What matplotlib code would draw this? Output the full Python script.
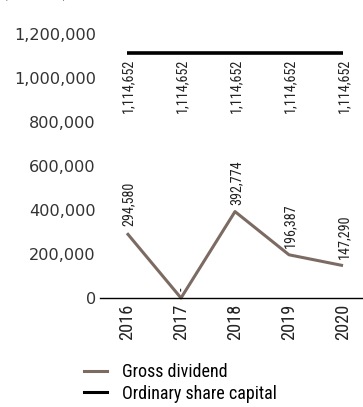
import matplotlib
matplotlib.use("Agg")
import matplotlib.pyplot as plt
from matplotlib.lines import Line2D

years = ["2016", "2017", "2018", "2019", "2020"]
gross_dividend = [294580, 0, 392774, 196387, 147290]
dividend_labels = ["294,580", "-", "392,774", "196,387", "147,290"]
share_capital = [1114652, 1114652, 1114652, 1114652, 1114652]
share_labels = ["1,114,652"] * 5
y_ticks = [0, 200000, 400000, 600000, 800000, 1000000, 1200000]
series_names = ["Gross dividend", "Ordinary share capital"]

narrow = ["Roboto Condensed", "Liberation Sans Narrow", "Roboto"]

W, H = 363, 407
fig = plt.figure(figsize=(W / 100, H / 100), dpi=100)
ax = fig.add_axes([100 / W, 1 - 298 / H, 263 / W, 264 / H])

brown = "#7b6b63"
x = list(range(len(years)))
ax.plot(x, gross_dividend, color=brown, lw=2.2, solid_capstyle="butt", clip_on=False)
ax.plot(x, share_capital, color="black", lw=2.6, solid_capstyle="butt", clip_on=False)

ax.set_xlim(-0.5, 4.37)
ax.set_ylim(0, 1200000)

for xi, v, lab in zip(x, gross_dividend, dividend_labels):
    ax.annotate(lab, (xi, v), xytext=(1, 5), textcoords="offset points",
                rotation=90, ha="center", va="bottom", fontsize=10.2,
                family=narrow, color="#222222")
for xi, v, lab in zip(x, share_capital, share_labels):
    ax.annotate(lab, (xi, v), xytext=(1, -4), textcoords="offset points",
                rotation=90, ha="center", va="top", fontsize=10.2,
                family=narrow, color="#222222")

ax.set_yticks(y_ticks)
ax.set_yticklabels([f"{t:,}" for t in y_ticks], fontsize=11.6, family="DejaVu Sans",
                   color="#333333")
ax.set_xticks(x)
ax.set_xticklabels(years, rotation=90, fontsize=13.2, family=narrow, color="#222222")
ax.tick_params(axis="both", length=0)
ax.tick_params(axis="y", pad=3)
ax.tick_params(axis="x", pad=4)

for s in ["top", "right", "left"]:
    ax.spines[s].set_visible(False)
ax.spines["bottom"].set_linewidth(1.0)
ax.spines["bottom"].set_color("black")

# legend entries
handles = [Line2D([], [], color=brown, lw=2.2), Line2D([], [], color="black", lw=2.2)]
fig.legend(handles, series_names, loc="upper left",
           bbox_to_anchor=(84 / W, 1 - 363 / H), frameon=False,
           prop={"family": narrow, "size": 13}, handlelength=1.3,
           handletextpad=0.8, labelspacing=0.2, borderaxespad=0, borderpad=0)

fig.text(2 / W, 1 + 3 / H, "(RM'000)", fontsize=12, family="Roboto",
         va="baseline", ha="left", color="#333333")

fig.savefig("out.png", dpi=100)
